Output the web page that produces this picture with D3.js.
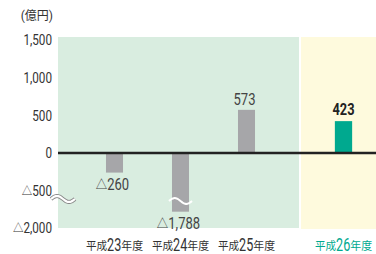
<!DOCTYPE html>
<html><head><meta charset="utf-8">
<script src="https://cdn.jsdelivr.net/npm/d3@7"></script>
<style>
html,body{margin:0;padding:0;background:#fff;}
text{font-family:Roboto,"Noto Sans CJK JP",sans-serif;}
</style></head>
<body>
<svg id="c" width="376" height="254"></svg>
<script>
const categories = ["平成23年度","平成24年度","平成25年度"];
const yearNums = ["23","24","25"];
const values = [-260, -1788, 573];
const valueLabels = ["△260","△1,788","573"];
const highlightCategory = ["平成26年度"];
const highlightYear = ["26"];
const highlightValue = [423];
const highlightLabel = ["423"];
const tickValues = [1500, 1000, 500, 0, -500, -2000];
const tickLabels = ["1,500","1,000","500","0","△500","△2,000"];
const unitLabel = "(億円)";

const svg = d3.select("#c");
const zeroY = 153, k = 113/1500;
// broken axis: upper segment [-500,1500], lower segment [-2000,-1700]
const y = d3.scaleLinear()
  .domain([-2000, -1700, -500, 1500])
  .range([zeroY + 500*k + 37, zeroY + 500*k + 37 - 300*k, zeroY + 500*k, zeroY - 1500*k]);

const x = d3.scaleBand().domain(categories).range([81.5, 279.5]).paddingInner(0.742).paddingOuter(0.371);
const x2 = d3.scaleBand().domain(highlightCategory).range([310, 377]).paddingInner(0.742).paddingOuter(0.371);

function ctext(cx, cy, anchor, parts, color){
  const g = svg.append("g");
  const widths = parts.map(p=>{
    const t = g.append("text").attr("font-size",p.size).attr("fill",p.color||color)
      .attr("font-family",p.family||null).attr("font-weight",p.weight||null).text(p.t);
    const w = t.node().getComputedTextLength()*p.sx;
    p.node = t; return w;
  });
  const total = d3.sum(widths);
  let px = anchor==="end" ? cx-total : anchor==="middle" ? cx-total/2 : cx;
  parts.forEach((p,i)=>{
    p.node.attr("transform",`translate(${px},${cy+(p.dy||0)}) scale(${p.sx},1)`);
    px += widths[i];
  });
}
function splitTri(s, size, sx, triSize, weight){
  const parts = [];
  if (s.startsWith("△")) { parts.push({t:"△", size:triSize, family:"DejaVu Sans", sx:0.95, dy:-0.5}); s = s.slice(1); }
  parts.push({t:s, size, sx, weight});
  return parts;
}

svg.append("rect").attr("x",58).attr("y",37).attr("width",241).attr("height",191).attr("fill","#d9ede0");
svg.append("rect").attr("x",301).attr("y",37).attr("width",75).attr("height",192).attr("fill","#fefadd");

const gray = "#a6a6a9", teal = "#00a98f";
svg.selectAll(".bar").data(values).enter().append("rect")
  .attr("x",(d,i)=>x(categories[i]))
  .attr("width",x.bandwidth())
  .attr("y",d=>Math.min(y(d),y(0)))
  .attr("height",d=>Math.abs(y(d)-y(0)))
  .attr("fill",gray);
svg.selectAll(".bar2").data(highlightValue).enter().append("rect")
  .attr("x",(d,i)=>x2(highlightCategory[i]))
  .attr("width",x2.bandwidth())
  .attr("y",d=>y(d))
  .attr("height",d=>y(0)-y(d))
  .attr("fill",teal);

svg.append("line").attr("x1",58).attr("x2",376).attr("y1",y(0)).attr("y2",y(0))
  .attr("stroke","#222").attr("stroke-width",2.5);

function wave(x0, x1, cy, amp){
  const pts = d3.range(0, 21).map(i=>{
    const t = i/20;
    return [x0 + (x1-x0)*t, cy - amp*Math.sin(t*2*Math.PI)];
  });
  return d3.line().curve(d3.curveBasis)(pts);
}
svg.append("path").attr("d",wave(51,75,199,3)).attr("fill","none").attr("stroke","#888").attr("stroke-width",4);
svg.append("path").attr("d",wave(51,75,199,3)).attr("fill","none").attr("stroke","#fff").attr("stroke-width",2.2);
const bx = x(categories[1]), bw = x.bandwidth();
svg.append("path").attr("d",wave(bx-3,bx+bw+3,201,3)).attr("fill","none").attr("stroke","#fff").attr("stroke-width",2);

tickValues.forEach((v,i)=>{
  ctext(52, y(v)+5.3, "end", splitTri(tickLabels[i], 15, 0.78, 11), "#333");
});
svg.append("text").attr("x",53).attr("y",20).attr("text-anchor","end")
  .attr("font-size",12).attr("font-family","Noto Sans CJK JP").attr("fill","#333").text(unitLabel);

values.forEach((v,i)=>{
  const cx = x(categories[i]) + x.bandwidth()/2 - 2;
  const cy = v<0 ? y(v)+17 : y(v)-5;
  ctext(cx, cy, "middle", splitTri(valueLabels[i], 16.5, 0.79, 12), "#444");
});
highlightValue.forEach((v,i)=>{
  const cx = x2(highlightCategory[i]) + x2.bandwidth()/2;
  ctext(cx, y(v)-6, "middle", [{t:highlightLabel[i], size:16, sx:0.8, weight:"bold"}], "#222");
});

function xlabel(cx, num, color){
  ctext(cx, 250.5, "middle", [
    {t:"平成", size:11.5, family:"Noto Sans CJK JP", sx:0.92, dy:-0.3},
    {t:num, size:18, sx:0.7},
    {t:"年度", size:11.5, family:"Noto Sans CJK JP", sx:0.95, dy:-0.3}
  ], color);
}
categories.forEach((c,i)=>xlabel(x(c)+x.bandwidth()/2, yearNums[i], "#333"));
highlightCategory.forEach((c,i)=>xlabel(x2(c)+x2.bandwidth()/2, highlightYear[i], teal));
</script>
</body></html>
